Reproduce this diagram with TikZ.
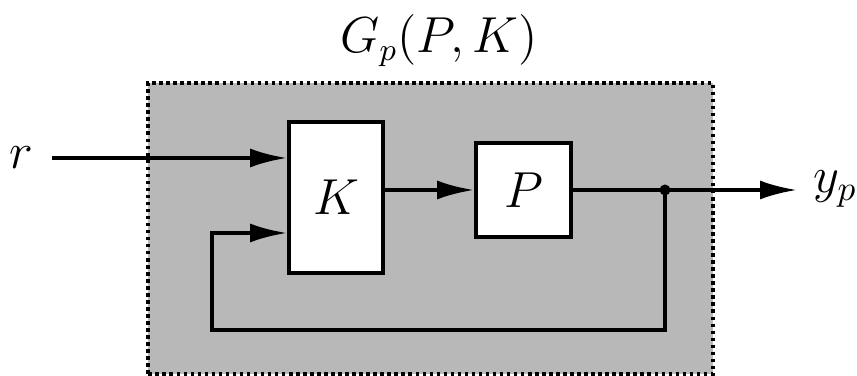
\documentclass[tikz,border=0pt]{standalone}
\usetikzlibrary{arrows.meta, positioning, calc}
\definecolor{fondo}{gray}{0.72}
\tikzset{
  bloque/.style={rectangle, draw=black, fill=white, line width=1.1pt, font=\fontsize{14}{16}\selectfont},
  senal/.style={font=\fontsize{14}{16}\selectfont},
  flecha/.style={line width=1.1pt, -{Latex[length=3.7mm,width=1.9mm]}},
  linea/.style={line width=1.1pt}
}
\begin{document}
\begin{tikzpicture}[x=0.1mm, y=0.1mm]
  \useasboundingbox (0,0) rectangle (857,376);
  \draw [fill=fondo, densely dotted, line width=1pt] (148,2) rectangle (713,293);
  \node (titulo) [senal, font=\fontsize{13.5}{16}\selectfont, anchor=base] at (439,323) {$G_p(P, K)$};
  \node (K) [bloque, minimum width=9.4mm, minimum height=15.1mm] at (336,178.5) {$K$};
  \node (P) [bloque, minimum width=9.5mm, minimum height=9.4mm] at (523.5,186) {$P$};
  \node (r) [senal, anchor=base] at (21,207) {$r$};
  \node (yp) [senal, anchor=base west] at (801,183) {$y_p$};
  \coordinate (rini) at (52,218);
  \coordinate (nodo) at (665,186);
  \coordinate (ysal) at (797,186);
  \coordinate (lazo) at (212,46);
  % entradas al controlador
  \draw [flecha] (rini) -- (rini -| K.west);
  \draw [flecha] (K.east |- P.west) -- (P.west);
  % salida y realimentacion
  \draw [linea] (P.east) -- (nodo);
  \draw [flecha] (nodo) -- (ysal);
  \draw [flecha] (nodo) -- (nodo |- lazo) -- (lazo) |- ($(K.west)+(0,-35.5)$);
  \fill (nodo) circle (0.55mm);
\end{tikzpicture}
\end{document}
